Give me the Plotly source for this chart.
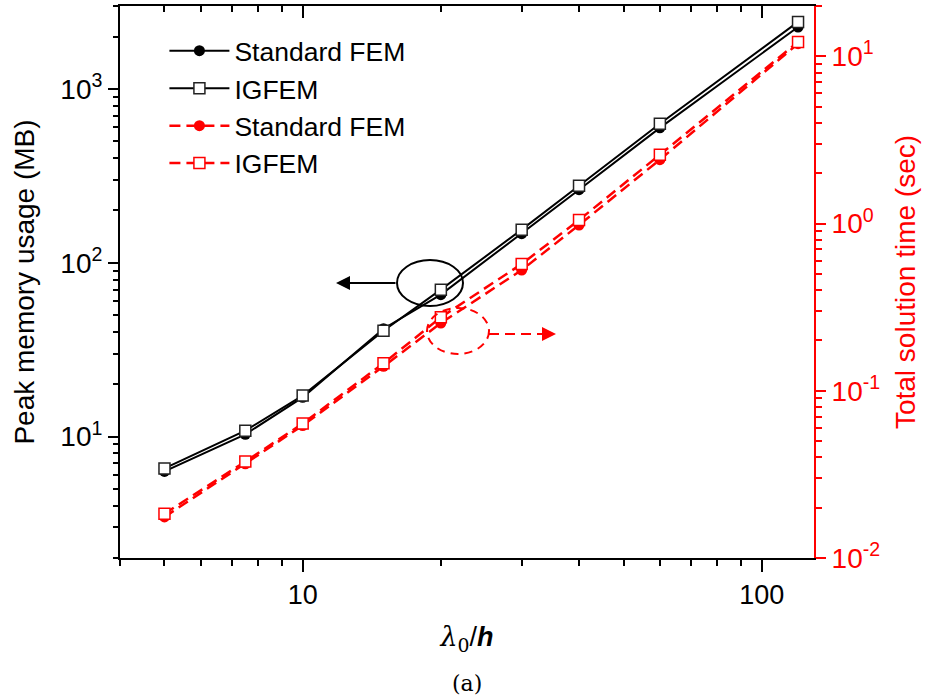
import plotly.graph_objects as go

# ---- data ----
ratio = [5, 7.5, 10, 15, 20, 30, 40, 60, 120]           # lambda0 / h
mem_std = [6.3, 10.3, 16.8, 41.7, 65.5, 147, 263, 597, 2270]   # MB
mem_ig = [6.55, 10.8, 17.2, 40.6, 70, 155, 277, 631, 2430]    # MB
time_std = [0.0176, 0.0366, 0.062, 0.14, 0.254, 0.527, 0.98, 2.41, 11.9]  # sec
time_ig = [0.0184, 0.0377, 0.0637, 0.146, 0.275, 0.573, 1.05, 2.58, 12.2]  # sec

x_major = [10, 100]
x_minor = [4, 5, 6, 7, 8, 9, 20, 30, 40, 50, 60, 70, 80, 90]
yl_major = [10, 100, 1000]
yl_text = ["10<sup>1</sup>", "10<sup>2</sup>", "10<sup>3</sup>"]
yl_minor = [2, 3, 4, 5, 6, 7, 8, 9, 20, 30, 40, 50, 60, 70, 80, 90,
            200, 300, 400, 500, 600, 700, 800, 900, 2000, 3000]
yr_major = [0.01, 0.1, 1, 10]
yr_text = ["10<sup>-2</sup>", "10<sup>-1</sup>", "10<sup>0</sup>", "10<sup>1</sup>"]
yr_minor = [0.02, 0.03, 0.04, 0.05, 0.06, 0.07, 0.08, 0.09,
            0.2, 0.3, 0.4, 0.5, 0.6, 0.7, 0.8, 0.9,
            2, 3, 4, 5, 6, 7, 8, 9, 20]

FONT = "Liberation Sans, Arial, sans-serif"
RED = "#ff0000"
DASH = "11px,6px"

fig = go.Figure()
fig.add_trace(go.Scatter(x=ratio, y=mem_std, name="Standard FEM", mode="lines+markers",
                         line=dict(color="black", width=2),
                         marker=dict(symbol="circle", size=11, color="black")))
fig.add_trace(go.Scatter(x=ratio, y=mem_ig, name="IGFEM", mode="lines+markers",
                         line=dict(color="black", width=2),
                         marker=dict(symbol="square", size=11, color="white",
                                     line=dict(color="#222", width=1.5))))
fig.add_trace(go.Scatter(x=ratio, y=time_std, name="Standard FEM", mode="lines+markers",
                         yaxis="y2",
                         line=dict(color=RED, width=2.5, dash=DASH),
                         marker=dict(symbol="circle", size=11, color=RED)))
fig.add_trace(go.Scatter(x=ratio, y=time_ig, name="IGFEM", mode="lines+markers",
                         yaxis="y2",
                         line=dict(color=RED, width=2.5, dash=DASH),
                         marker=dict(symbol="square", size=11, color="white",
                                     line=dict(color=RED, width=1.5))))
# dummy trace so the top mirror axis is drawn
fig.add_trace(go.Scatter(x=[None], y=[None], xaxis="x2", showlegend=False,
                         hoverinfo="skip"))

L, R, T, B = 120, 111, 6, 142
W, H = 925, 700
PW, PH = W - L - R, H - T - B


def px(x):
    return (x - L) / PW


def py(y):
    return (H - B - y) / PH


fig.update_layout(
    width=W, height=H,
    margin=dict(l=L, r=R, t=T, b=B, autoexpand=False),
    paper_bgcolor="white", plot_bgcolor="white",
    font=dict(family=FONT, size=28, color="black"),
    showlegend=True,
    legend=dict(x=0.064, y=py(27), xanchor="left", yanchor="top",
                bgcolor="rgba(0,0,0,0)", font=dict(size=26.5),
                itemwidth=60, tracegroupgap=0),
    xaxis=dict(type="log", range=[0.60206, 2.11394], automargin=False,
               tickvals=x_major, ticktext=["10", "100"],
               ticks="outside", ticklen=12, tickwidth=2, tickcolor="black",
               showline=True, linecolor="black", linewidth=2,
               showgrid=False, zeroline=False,
               tickfont=dict(size=27),
               minor=dict(tickvals=x_minor, ticks="outside", ticklen=6,
                          tickwidth=2, tickcolor="black", showgrid=False),
               title=dict(text='<span style="font-family:DejaVu Serif"><i>λ</i><sub>0</sub></span>/<b><i>h</i></b>',
                          font=dict(size=27), standoff=18)),
    xaxis2=dict(type="log", range=[0.60206, 2.11394], overlaying="x", side="top",
                automargin=False,
                tickvals=x_major, showticklabels=False,
                ticks="inside", ticklen=12, tickwidth=2, tickcolor="black",
                showline=True, linecolor="black", linewidth=2,
                showgrid=False, zeroline=False,
                minor=dict(tickvals=x_minor, ticks="inside", ticklen=6,
                           tickwidth=2, tickcolor="black", showgrid=False)),
    yaxis=dict(type="log", range=[0.30103, 3.47712], automargin=False,
               tickvals=yl_major, ticktext=yl_text,
               ticks="outside", ticklen=10, tickwidth=2, tickcolor="black",
               showline=True, linecolor="black", linewidth=2,
               showgrid=False, zeroline=False,
               tickfont=dict(size=28),
               minor=dict(tickvals=yl_minor, ticks="outside", ticklen=5,
                          tickwidth=2, tickcolor="black", showgrid=False),
               title=dict(text="Peak memory usage (MB)", font=dict(size=28),
                          standoff=18)),
    yaxis2=dict(type="log", range=[-2, 1.30103], overlaying="y", side="right",
                automargin=False,
                tickvals=yr_major, ticktext=yr_text,
                ticks="outside", ticklen=10, tickwidth=2, tickcolor=RED,
                showline=True, linecolor=RED, linewidth=2,
                showgrid=False, zeroline=False,
                tickfont=dict(size=28, color=RED),
                minor=dict(tickvals=yr_minor, ticks="outside", ticklen=6,
                           tickwidth=2, tickcolor=RED, showgrid=False),
                title=dict(text="Total solution time (sec)",
                           font=dict(size=28, color=RED), standoff=16)),
)

# black ellipse + arrow pointing to left axis
fig.add_shape(type="circle", xref="paper", yref="paper",
              x0=px(397), x1=px(463), y0=py(306), y1=py(260),
              line=dict(color="black", width=2))
fig.add_annotation(xref="paper", yref="paper", x=px(336), y=py(283),
                   ax=61, ay=0, text="", showarrow=True,
                   arrowhead=2, arrowsize=1.4, arrowwidth=2, arrowcolor="black")

# red dashed ellipse + dashed arrow pointing to right axis
fig.add_shape(type="circle", xref="paper", yref="paper",
              x0=px(427), x1=px(489), y0=py(354), y1=py(308),
              line=dict(color=RED, width=2, dash="8px,6px"))
fig.add_shape(type="line", xref="paper", yref="paper",
              x0=px(489), x1=px(545), y0=py(334), y1=py(334),
              line=dict(color=RED, width=2, dash="10px,6px"))
fig.add_annotation(xref="paper", yref="paper", x=px(556), y=py(334),
                   ax=-14, ay=0, text="", showarrow=True,
                   arrowhead=2, arrowsize=1.4, arrowwidth=2, arrowcolor=RED)

# caption
fig.add_annotation(xref="paper", yref="paper", x=0.5, y=py(683),
                   xanchor="center", yanchor="middle",
                   text="(a)", showarrow=False,
                   font=dict(family="DejaVu Serif, serif", size=22, color="black"))

fig.write_html("out.html", config={"displayModeBar": False},
               post_script="document.body.style.margin='0';document.body.style.padding='0';")
